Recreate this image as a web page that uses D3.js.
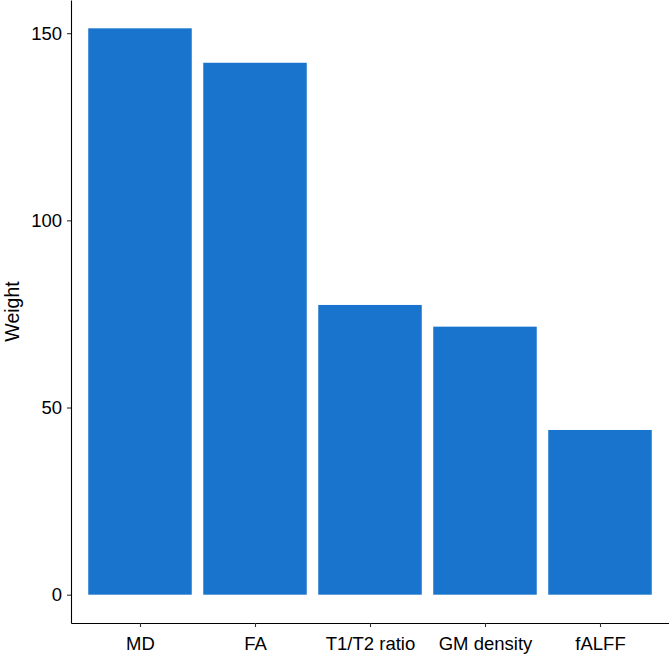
<!DOCTYPE html>
<html>
<head>
<meta charset="utf-8">
<script src="https://cdn.jsdelivr.net/npm/d3@7"></script>
<style>
  body { margin: 0; background: #fff; }
  svg { display: block; font-family: "Liberation Sans", Arial, Helvetica, sans-serif; }
</style>
</head>
<body>
<svg id="chart" width="669" height="661"></svg>
<script>
// //////// DATA
const categories = ["MD", "FA", "T1/T2 ratio", "GM density", "fALFF"];
const weights = [151.3, 142.1, 77.4, 71.6, 44.0];
const yTicks = [0, 50, 100, 150];

// //////// LAYOUT
const width = 669;
const height = 661;
const margin = { top: 0, right: 0, bottom: 38, left: 71 };

const svg = d3.select("#chart");

// ggplot-like expansion: 0.6 units on discrete x, 5% on continuous y
const n = categories.length;
const x = d3
  .scaleLinear()
  .domain([0.4, n + 0.6])
  .range([margin.left, width - margin.right]);

const yMax = d3.max(weights);
const y = d3
  .scaleLinear()
  .domain([-yMax * 0.05, yMax * 1.05])
  .range([height - margin.bottom, margin.top]);

const barHalf = 0.45;

// Bars
svg
  .append("g")
  .selectAll("rect")
  .data(weights)
  .join("rect")
  .attr("x", (d, i) => x(i + 1 - barHalf))
  .attr("width", (d, i) => x(i + 1 + barHalf) - x(i + 1 - barHalf))
  .attr("y", (d) => y(d))
  .attr("height", (d) => y(0) - y(d))
  .attr("fill", "#1874CD");

// Y axis
const yAxis = d3
  .axisLeft(y)
  .tickValues(yTicks)
  .tickSize(4)
  .tickPadding(5)
  .tickSizeOuter(0);

const gy = svg
  .append("g")
  .attr("transform", `translate(${margin.left},0)`)
  .call(yAxis);

gy.select(".domain").attr("stroke", "#000").attr("stroke-width", 1.1);
gy.selectAll(".tick line").attr("stroke", "#333").attr("stroke-width", 1.1);
gy.selectAll(".tick text")
  .attr("font-size", 18.5)
  .attr("fill", "#000");

// X axis
const xAxis = d3
  .axisBottom(x)
  .tickValues(d3.range(1, n + 1))
  .tickFormat((d) => categories[d - 1])
  .tickSize(4)
  .tickPadding(10)
  .tickSizeOuter(0);

const gx = svg
  .append("g")
  .attr("transform", `translate(0,${height - margin.bottom})`)
  .call(xAxis);

gx.select(".domain").attr("stroke", "#000").attr("stroke-width", 1.1);
gx.selectAll(".tick line").attr("stroke", "#333").attr("stroke-width", 1.1);
gx.selectAll(".tick text")
  .attr("font-size", 18.5)
  .attr("fill", "#000");

// Y label
svg
  .append("text")
  .attr("transform", `translate(19,${y((y.domain()[0] + y.domain()[1]) / 2)}) rotate(-90)`)
  .attr("text-anchor", "middle")
  .attr("font-size", 19.5)
  .attr("fill", "#000")
  .text("Weight");
</script>
</body>
</html>
